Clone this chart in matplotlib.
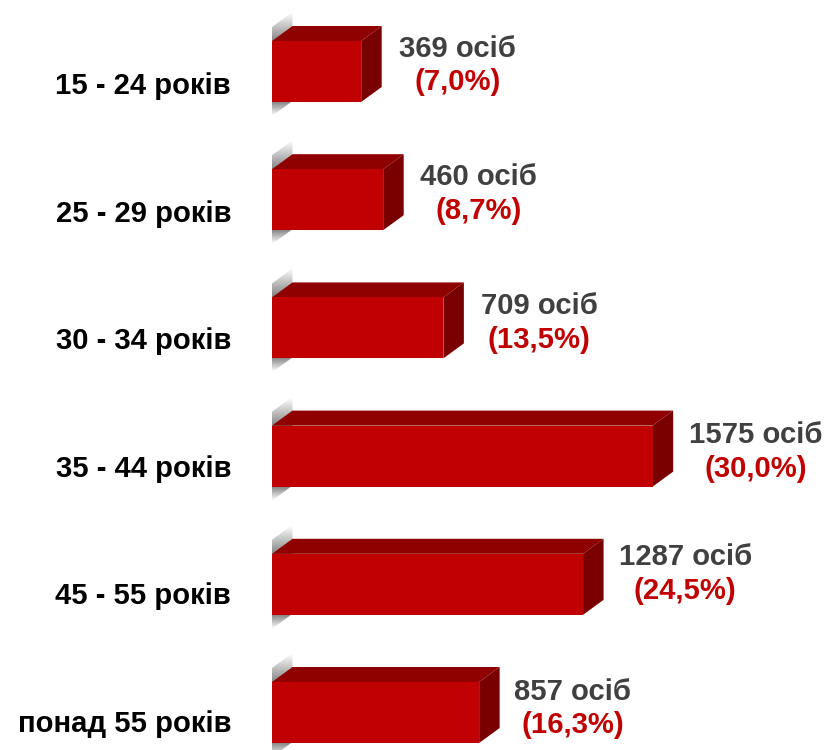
#!/usr/bin/env python

import numpy as np
import matplotlib
matplotlib.use('Agg')
import matplotlib.pyplot as plt
from matplotlib.patches import Polygon

plt.rcParams['font.family'] = ['Liberation Sans', 'DejaVu Sans']

ages = ['15 - 24 років', '25 - 29 років', '30 - 34 років',
        '35 - 44 років', '45 - 55 років', 'понад 55 років']
counts = [369, 460, 709, 1575, 1287, 857]
percents = ['(7,0%)', '(8,7%)', '(13,5%)', '(30,0%)', '(24,5%)', '(16,3%)']

# pixel fine tuning of the text rows
count_dx = [38, 37, 37.5, 36.5, 35.5, 35]
count_dy = [-22.5, -22.5, -21.5, -21.5, -27.5, -20.5]
pct_dy = [11, 11, 12.5, 12.5, 6.5, 12.5]
age_dy = [15, 14.8, 13.5, 12.5, 11.5, 12]

W, H = 827, 750
x0_px = 272        # where value 0 sits
px_per_unit = 0.2417
y0_px = 71.5       # centre of first bar
row_px = 128.2

fig = plt.figure(figsize=(W / 100, H / 100), dpi=100)
ax = fig.add_axes([0, 0, 1, 1])
ax.axis('off')
xlim = (-x0_px / px_per_unit, (W - x0_px) / px_per_unit)
ylim = ((H - y0_px) / row_px, -y0_px / row_px)

ux = 1 / px_per_unit   # one pixel in x data
uy = 1 / row_px        # one pixel in y data
bar_h = 61 * uy
depth_x = 20.5 * ux
depth_y = 15 * uy

# grey floor strip behind every bar, fades out at both ends
strip = np.concatenate([np.linspace(0, 0.75, 30), np.linspace(0.75, 0.75, 60),
                        np.linspace(0.75, 0, 15)])
grad = np.zeros((len(strip), 1, 4))
grad[..., :3] = 0.35
grad[..., 3] = strip[:, None]

for i, n in enumerate(counts):
    top = i - bar_h / 2
    bot = i + bar_h / 2
    im = ax.imshow(grad, extent=(0, depth_x, bot + 14 * uy, top - 29 * uy),
                   aspect='auto', zorder=1, interpolation='bilinear')
    wall = Polygon([(0, top - 14 * uy), (depth_x, top - 29 * uy),
                    (depth_x, bot - 1 * uy), (0, bot + 14 * uy)],
                   closed=True, transform=ax.transData, fc='none', ec='none')
    ax.add_patch(wall)
    im.set_clip_path(wall)

    ax.add_patch(Polygon([(0, top), (n, top), (n + depth_x, top - depth_y),
                          (depth_x, top - depth_y)], closed=True,
                         fc='#8F0000', ec='none', zorder=2))
    ax.add_patch(Polygon([(n, top), (n + depth_x, top - depth_y),
                          (n + depth_x, bot - depth_y), (n, bot)], closed=True,
                         fc='#7A0000', ec='none', zorder=2))

ax.barh(range(len(counts)), counts, height=bar_h, color='#C00000', zorder=3)

for i, n in enumerate(counts):
    t = ax.text(n + count_dx[i] * ux, i + count_dy[i] * uy, '%d осіб' % n,
                fontsize=21.1, fontweight='bold', color='#404040',
                ha='left', va='center')
    ax.annotate(percents[i], xy=(0.5, 0.5), xycoords=t,
                xytext=(0, -(pct_dy[i] - count_dy[i]) * 0.72),
                textcoords='offset points', fontsize=21.1, fontweight='bold',
                color='#C00000', ha='center', va='center')
    ax.text(-41 * ux, i + age_dy[i] * uy, ages[i], fontsize=21.1,
            fontweight='bold', color='black', ha='right', va='center')

ax.set_xlim(*xlim)
ax.set_ylim(*ylim)

fig.savefig('out.png', dpi=100)
